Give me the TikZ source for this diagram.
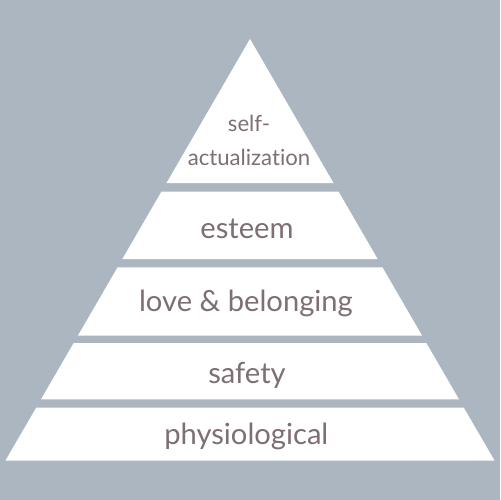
\documentclass[tikz,border=0pt]{standalone}
\usepackage{fontspec}
\setmainfont[Ligatures={NoCommon,NoDiscretionary}]{Lato}
\usepackage{tikz}
\definecolor{bgblue}{HTML}{ABB6C1}
\definecolor{labelgray}{HTML}{7D6F75}
\tikzset{every picture/.style={line width=0.5pt}}

\begin{document}
\begin{tikzpicture}[x=0.02cm,y=-0.02cm,
  band/.style={fill=white,draw=none},
  biglabel/.style={anchor=base,inner sep=0pt,text=labelgray,font=\fontsize{16.6}{19}\selectfont},
  smalllabel/.style={anchor=base,inner sep=0pt,text=labelgray,font=\fontsize{12.6}{15}\selectfont}]
\fill[bgblue] (0,0) rectangle (500,500);
\useasboundingbox (0,0) rectangle (500,500);
% the five levels, top to bottom
\fill[band] (250,39) -- (333.5,183) -- (166.5,183) -- cycle;
\fill[band] (161.4,191.7) -- (338.6,191.7) -- (377.6,259) -- (122.4,259) -- cycle;
\fill[band] (117.6,267.3) -- (382.4,267.3) -- (422.1,335.7) -- (77.9,335.7) -- cycle;
\fill[band] (73.7,343) -- (426.3,343) -- (459,399.3) -- (41,399.3) -- cycle;
\fill[band] (36.2,407.7) -- (463.8,407.7) -- (494.6,460.7) -- (5.4,460.7) -- cycle;
% labels
\node[smalllabel] (self) at (249,131.7) {self-};
\node[smalllabel] (actual) at (249,165) {actualization};
\node[biglabel] (esteem) at (247,238.3) {esteem};
\node[biglabel] (love) at (246,311.7) {love \& belonging};
\node[biglabel] (safety) at (247,383) {safety};
\node[biglabel] (physio) at (246.3,444.3) {physiological};
\end{tikzpicture}
\end{document}
